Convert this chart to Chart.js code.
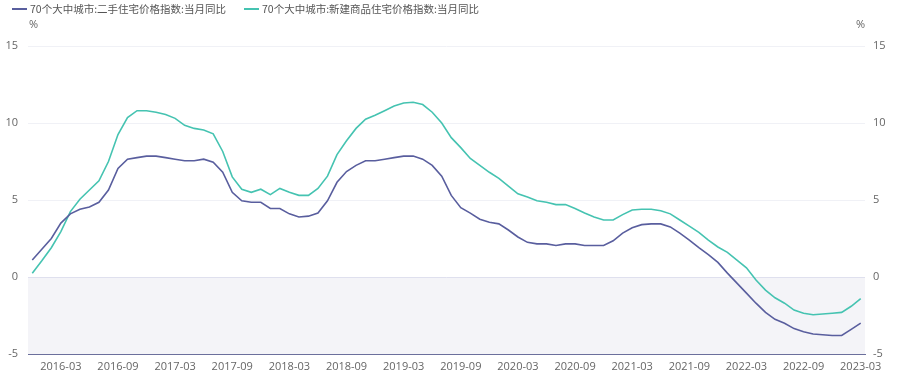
<!DOCTYPE html>
<html>
<head>
<meta charset="utf-8">
<script src="https://cdn.jsdelivr.net/npm/chart.js@4.4.1/dist/chart.umd.min.js"></script>
<style>
  body { margin: 0; background: #fff; }
  #wrap { position: relative; width: 899px; height: 376px; }
</style>
</head>
<body>
<div id="wrap"><canvas id="chart"></canvas></div>
<script>
'use strict';
// monthly categories, 2015-12 .. 2023-03
var months = [
    '2015-12',
    '2016-01','2016-02','2016-03','2016-04','2016-05','2016-06','2016-07','2016-08','2016-09','2016-10','2016-11','2016-12',
    '2017-01','2017-02','2017-03','2017-04','2017-05','2017-06','2017-07','2017-08','2017-09','2017-10','2017-11','2017-12',
    '2018-01','2018-02','2018-03','2018-04','2018-05','2018-06','2018-07','2018-08','2018-09','2018-10','2018-11','2018-12',
    '2019-01','2019-02','2019-03','2019-04','2019-05','2019-06','2019-07','2019-08','2019-09','2019-10','2019-11','2019-12',
    '2020-01','2020-02','2020-03','2020-04','2020-05','2020-06','2020-07','2020-08','2020-09','2020-10','2020-11','2020-12',
    '2021-01','2021-02','2021-03','2021-04','2021-05','2021-06','2021-07','2021-08','2021-09','2021-10','2021-11','2021-12',
    '2022-01','2022-02','2022-03','2022-04','2022-05','2022-06','2022-07','2022-08','2022-09','2022-10','2022-11','2022-12',
    '2023-01','2023-02','2023-03'
];
var tickLabels = ['2016-03','2016-09','2017-03','2017-09','2018-03','2018-09','2019-03','2019-09',
    '2020-03','2020-09','2021-03','2021-09','2022-03','2022-09','2023-03'];
var yTicks = [-5, 0, 5, 10, 15];

var seriesNames = ['70个大中城市:二手住宅价格指数:当月同比', '70个大中城市:新建商品住宅价格指数:当月同比'];
var seriesColors = ['#595e9e', '#45c3b1'];

// 二手住宅
var resale = [
    1.1, 1.8, 2.5, 3.5, 4.1, 4.4, 4.55, 4.85, 5.65, 7.05, 7.65, 7.75, 7.85, 7.85, 7.75, 7.65, 7.55, 7.55, 7.65, 7.45, 6.8, 5.5, 4.95,
    4.85, 4.85, 4.45, 4.45, 4.1, 3.9, 3.95, 4.15, 4.95, 6.15, 6.85, 7.25, 7.55, 7.55, 7.65, 7.75, 7.85, 7.85, 7.65, 7.25, 6.55, 5.3, 4.5,
    4.15, 3.75, 3.55, 3.45, 3.05, 2.6, 2.25, 2.15, 2.15, 2.05, 2.15, 2.15, 2.05, 2.05, 2.05, 2.35, 2.85, 3.2, 3.4, 3.45, 3.45, 3.25, 2.85,
    2.4, 1.9, 1.45, 0.95, 0.25, -0.4, -1.05, -1.7, -2.3, -2.75, -3.0, -3.35, -3.55, -3.7, -3.75, -3.8, -3.8, -3.4, -3.0
];
// 新建商品住宅
var newBuild = [
    0.25, 1.05, 1.9, 2.95, 4.25, 5.05, 5.65, 6.25, 7.5, 9.25, 10.35, 10.8, 10.8, 10.7, 10.55, 10.3, 9.85, 9.65, 9.55, 9.3, 8.15, 6.5, 5.7,
    5.5, 5.7, 5.35, 5.75, 5.5, 5.3, 5.3, 5.75, 6.55, 7.95, 8.85, 9.65, 10.25, 10.5, 10.8, 11.1, 11.3, 11.35, 11.2, 10.7, 10.0, 9.05, 8.4,
    7.7, 7.25, 6.8, 6.4, 5.9, 5.4, 5.2, 4.95, 4.85, 4.7, 4.7, 4.45, 4.15, 3.9, 3.7, 3.7, 4.05, 4.35, 4.4, 4.4, 4.3, 4.1, 3.7,
    3.3, 2.9, 2.4, 1.95, 1.6, 1.1, 0.6, -0.2, -0.85, -1.35, -1.7, -2.15, -2.35, -2.45, -2.4, -2.35, -2.3, -1.9, -1.4
];

function toPoints(arr) {
    return arr.map(function (v, i) { return { x: i, y: v }; });
}

var tickFont = { family: '"Open Sans", sans-serif', size: 11 };
var cjkFont = '10.5px "Noto Sans CJK SC", sans-serif';

// shaded band below zero, legend and unit labels
var decor = {
    id: 'decor',
    beforeDraw: function (chart) {
        var ctx = chart.ctx, a = chart.chartArea, y = chart.scales.y;
        var top = y.getPixelForValue(0), bottom = y.getPixelForValue(yTicks[0]);
        ctx.save();
        ctx.fillStyle = '#f4f4f8';
        ctx.fillRect(a.left, top, a.right - a.left, bottom - top);
        ctx.restore();
    },
    afterDraw: function (chart) {
        var ctx = chart.ctx, a = chart.chartArea;
        ctx.save();
        ctx.font = cjkFont;
        ctx.textBaseline = 'middle';
        var x = 12;
        for (var i = 0; i < seriesNames.length; i++) {
            ctx.fillStyle = seriesColors[i];
            ctx.fillRect(x, 8, 15, 2);
            ctx.fillStyle = '#555';
            ctx.fillText(seriesNames[i], x + 18, 9);
            x += 18 + ctx.measureText(seriesNames[i]).width + 18;
        }
        ctx.font = '11px "Open Sans", sans-serif';
        ctx.fillStyle = '#666';
        ctx.textAlign = 'left';
        ctx.fillText('%', a.left + 1, 25);
        ctx.textAlign = 'right';
        ctx.fillText('%', a.right, 25);
        ctx.restore();
    }
};

new Chart(document.getElementById('chart'), {
    type: 'line',
    data: {
        datasets: [
            { label: seriesNames[0], data: toPoints(resale), borderColor: seriesColors[0], backgroundColor: seriesColors[0],
              borderWidth: 1.6, pointRadius: 0, tension: 0, yAxisID: 'y' },
            { label: seriesNames[1], data: toPoints(newBuild), borderColor: seriesColors[1], backgroundColor: seriesColors[1],
              borderWidth: 1.6, pointRadius: 0, tension: 0, yAxisID: 'y' }
        ]
    },
    options: {
        responsive: true,
        maintainAspectRatio: false,
        animation: false,
        layout: { padding: { top: 46, left: 0, right: 0, bottom: 0 } },
        plugins: { legend: { display: false }, tooltip: { enabled: false } },
        scales: {
            x: {
                type: 'linear',
                min: -0.45,
                max: months.length - 1 + 0.45,
                afterBuildTicks: function (s) {
                    s.ticks = tickLabels.map(function (t) { return { value: months.indexOf(t) }; });
                },
                afterFit: function (s) { s.height = 22; },
                grid: { display: false, drawTicks: false },
                border: { display: true, color: '#6b6f9c', width: 1 },
                ticks: {
                    autoSkip: false, maxRotation: 0, padding: 6, color: '#666', font: tickFont,
                    callback: function (v) { return months[v]; }
                }
            },
            y: {
                position: 'left',
                min: yTicks[0], max: yTicks[yTicks.length - 1],
                afterBuildTicks: function (s) { s.ticks = yTicks.map(function (v) { return { value: v }; }); },
                afterFit: function (s) { s.width = 28; },
                border: { display: false },
                grid: {
                    drawTicks: false,
                    color: function (c) {
                        if (c.tick.value === 0) return '#dfe0ee';
                        if (c.tick.value === yTicks[0]) return 'rgba(0,0,0,0)';
                        return '#f0f1f6';
                    }
                },
                ticks: { padding: 10, color: '#666', font: tickFont }
            },
            y1: {
                position: 'right',
                min: yTicks[0], max: yTicks[yTicks.length - 1],
                afterBuildTicks: function (s) { s.ticks = yTicks.map(function (v) { return { value: v }; }); },
                afterFit: function (s) { s.width = 34; },
                border: { display: false },
                grid: { display: false, drawTicks: false },
                ticks: { padding: 8, color: '#666', font: tickFont }
            }
        }
    },
    plugins: [decor]
});
</script>
</body>
</html>
